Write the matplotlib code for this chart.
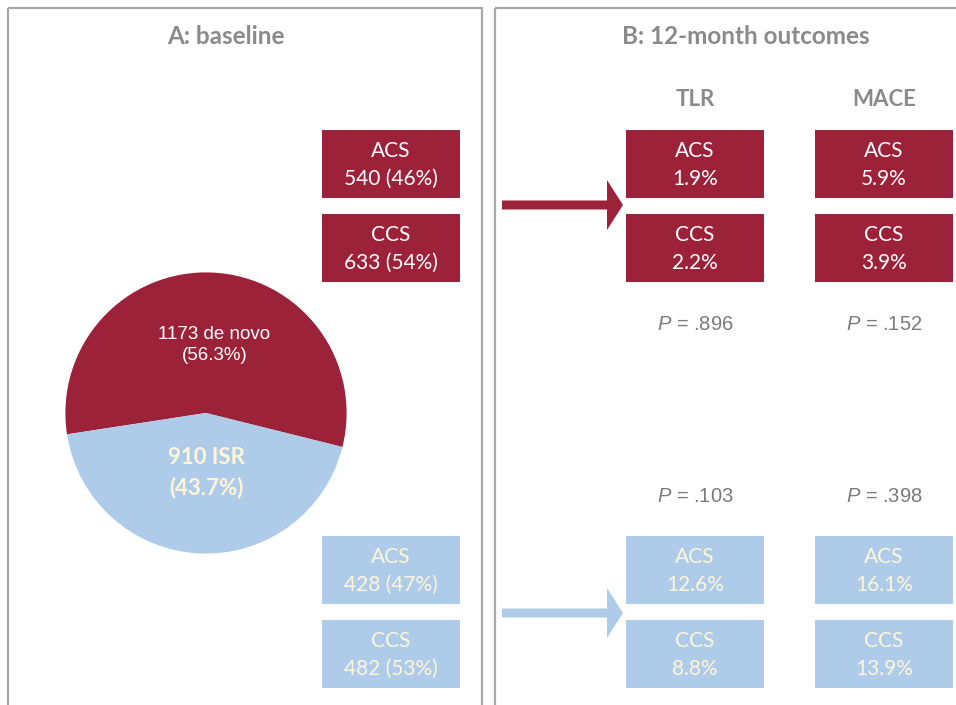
"""
Baseline split of de novo vs in-stent restenosis lesions and 12-month outcomes.
"""

import matplotlib

matplotlib.use("Agg")
import matplotlib.pyplot as plt
from matplotlib.patches import Rectangle, FancyArrow

# --------------------------------------------------
# Data
# --------------------------------------------------
pie_labels = ["de novo", "ISR"]
pie_counts = [1173, 910]
pie_pcts = [56.3, 43.7]

subgroups = ["ACS", "CCS"]
denovo_counts = [540, 633]
denovo_pcts = [46, 54]
isr_counts = [428, 482]
isr_pcts = [47, 53]

outcomes = ["TLR", "MACE"]
denovo_rates = {"TLR": [1.9, 2.2], "MACE": [5.9, 3.9]}
isr_rates = {"TLR": [12.6, 8.8], "MACE": [16.1, 13.9]}
denovo_p = {"TLR": ".896", "MACE": ".152"}
isr_p = {"TLR": ".103", "MACE": ".398"}

# --------------------------------------------------
# Style
# --------------------------------------------------
RED = "#9b2238"
BLUE = "#aecbea"
CREAM = "#fff6d8"
GRAY_TXT = "#8a8a8a"
P_TXT = "#7a7a7a"
BORDER = "#a8a8a8"
BOX_FONT = "Lato"

plt.rcParams["mathtext.fontset"] = "custom"
plt.rcParams["mathtext.rm"] = "Liberation Sans"
plt.rcParams["mathtext.it"] = "Liberation Sans:italic"

W, H = 956, 705
fig = plt.figure(figsize=(W / 100, H / 100), dpi=100)
fig.patch.set_facecolor("white")

# pixel-space canvas for panels, boxes and arrows
ax = fig.add_axes([0, 0, 1, 1])
ax.set_xlim(0, W)
ax.set_ylim(H, 0)
ax.axis("off")

# panel frames
for x0, x1 in [(8, 482), (495, 990)]:
    ax.add_patch(Rectangle((x0, 8), x1 - x0, 740, fill=False,
                           edgecolor=BORDER, linewidth=1.6))

ax.text(226, 37, "A: baseline", ha="center", va="center", fontsize=17.5,
        fontweight="bold", color=GRAY_TXT, family=BOX_FONT)
ax.text(746, 37, "B: 12-month outcomes", ha="center", va="center",
        fontsize=17.5, fontweight="bold", color=GRAY_TXT, family=BOX_FONT)

BOX_W, BOX_H = 138, 68
red_rows = [130, 214]
blue_rows = [536, 620]
col_x = {"A": 322, "TLR": 626, "MACE": 815}


def draw_box(x, y, title, value, face, txt):
    ax.add_patch(Rectangle((x, y), BOX_W, BOX_H, facecolor=face,
                           edgecolor="none"))
    cx = x + BOX_W / 2
    ax.text(cx, y + 21, title, ha="center", va="center", fontsize=15,
            color=txt, family=BOX_FONT)
    ax.text(cx, y + 49, value, ha="center", va="center", fontsize=15,
            color=txt, family=BOX_FONT)


# panel A subgroup boxes
for i, grp in enumerate(subgroups):
    draw_box(col_x["A"], red_rows[i], grp,
             f"{denovo_counts[i]} ({denovo_pcts[i]}%)", RED, "white")
    draw_box(col_x["A"], blue_rows[i], grp,
             f"{isr_counts[i]} ({isr_pcts[i]}%)", BLUE, CREAM)

# panel B outcome columns
for out in outcomes:
    x = col_x[out]
    cx = x + BOX_W / 2
    ax.text(cx, 100, out, ha="center", va="center", fontsize=16,
            fontweight="bold", color=GRAY_TXT, family=BOX_FONT)
    for i, grp in enumerate(subgroups):
        draw_box(x, red_rows[i], grp, f"{denovo_rates[out][i]}%", RED, "white")
        draw_box(x, blue_rows[i], grp, f"{isr_rates[out][i]}%", BLUE, CREAM)
    ax.text(cx, 325, f"$P$ = {denovo_p[out]}", ha="center", va="center",
            fontsize=14.5, color=P_TXT, family="Liberation Sans")
    ax.text(cx, 496, f"$P$ = {isr_p[out]}", ha="center", va="center",
            fontsize=14.5, color=P_TXT, family="Liberation Sans")

# arrows linking baseline to outcomes
for y, col in [(205, RED), (613, BLUE)]:
    ax.add_patch(FancyArrow(502, y, 105, 0, width=9, head_width=50,
                            head_length=16, length_includes_head=False,
                            color=col, linewidth=0))

# --------------------------------------------------
# Pie chart
# --------------------------------------------------
pcx, pcy, r = 206, 413, 142
pax = fig.add_axes([(pcx - r) / W, (H - pcy - r) / H, 2 * r / W, 2 * r / H])
pax.pie(pie_counts, colors=[RED, BLUE], startangle=346, counterclock=True,
        wedgeprops=dict(edgecolor="none"))
pax.set_xlim(-1.01, 1.01)
pax.set_ylim(-1.01, 1.01)
pax.axis("off")

pax.text(0.06, 0.56, f"{pie_counts[0]} {pie_labels[0]}", ha="center",
         va="center", fontsize=13.5, color="white", family="Liberation Sans")
pax.text(0.06, 0.41, f"({pie_pcts[0]}%)", ha="center", va="center",
         fontsize=13.5, color="white", family="Liberation Sans")
pax.text(0.0, -0.32, f"{pie_counts[1]} {pie_labels[1]}", ha="center",
         va="center", fontsize=16, fontweight="bold", color=CREAM,
         family=BOX_FONT)
pax.text(0.0, -0.53, f"({pie_pcts[1]}%)", ha="center", va="center",
         fontsize=16, fontweight="bold", color=CREAM, family=BOX_FONT)

fig.savefig("out.png", dpi=100, facecolor="white")
plt.close(fig)
